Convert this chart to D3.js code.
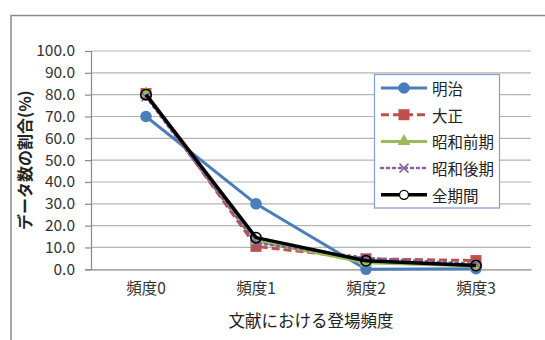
<!DOCTYPE html>
<html>
<head>
<meta charset="utf-8">
<script src="https://cdn.jsdelivr.net/npm/d3@7"></script>
<style>
  html, body { margin: 0; padding: 0; background: #fff; }
  svg { display: block; font-family: "Noto Sans CJK JP", "Noto Sans", sans-serif; }
</style>
</head>
<body>
<svg id="chart" width="545" height="340"></svg>
<script>
// Share of entries by how often they appear in the literature, per era (%)
const categories = ["頻度0", "頻度1", "頻度2", "頻度3"];
const seriesNames = ["明治", "大正", "昭和前期", "昭和後期", "全期間"];
const meiji   = [70.0, 30.0, 0.0, 0.3];
const taisho  = [80.5, 10.5, 4.8, 4.0];
const showaEarly = [80.5, 13.0, 3.0, 1.5];
const showaLate  = [79.0, 12.0, 5.2, 2.5];
const allPeriods = [80.0, 14.5, 3.9, 1.7];
const yTicks = [0, 10, 20, 30, 40, 50, 60, 70, 80, 90, 100];

const seriesValues = [meiji, taisho, showaEarly, showaLate, allPeriods];

const styles = [
  { color: "#4A7EBB", width: 3,   dash: null,  marker: "circle" },
  { color: "#C0504D", width: 3,   dash: "8,4", marker: "square" },
  { color: "#9BBB59", width: 3,   dash: null,  marker: "triangle" },
  { color: "#8064A2", width: 2.5, dash: "2,4", marker: "x" },
  { color: "#000000", width: 3.5, dash: null,  marker: "open" }
];

const svg = d3.select("#chart");

// outer chart frame (runs off the right and bottom edges)
svg.append("rect")
  .attr("x", 11).attr("y", 15.5)
  .attr("width", 600).attr("height", 400)
  .attr("fill", "#fff").attr("stroke", "#8a8a8a").attr("stroke-width", 1.5);

const plot = { left: 91, right: 531, top: 51, bottom: 269.3 };

const x = d3.scaleBand().domain(categories).range([plot.left, plot.right]);
const y = d3.scaleLinear().domain([0, 100]).range([plot.bottom, plot.top]);

// horizontal gridlines
svg.append("g").selectAll("line").data(yTicks.filter(d => d > 0)).join("line")
  .attr("x1", plot.left).attr("x2", plot.right)
  .attr("y1", d => y(d)).attr("y2", d => y(d))
  .attr("stroke", "#b4b4b4").attr("stroke-width", 1.2);

// y axis
const yAxis = svg.append("g")
  .attr("transform", `translate(${plot.left},0)`)
  .call(d3.axisLeft(y).tickValues(yTicks).tickFormat(d3.format(".1f")).tickSize(6).tickPadding(10));
yAxis.select(".domain").attr("stroke", "#8a8a8a").attr("stroke-width", 1.2);
yAxis.selectAll(".tick line").attr("stroke", "#8a8a8a").attr("stroke-width", 1.2);
yAxis.selectAll(".tick text")
  .style("font-size", "15.5px").attr("fill", "#333")
  .style("font-family", "'Noto Sans CJK JP', 'Noto Sans', sans-serif");

// x axis
const xAxis = svg.append("g")
  .attr("transform", `translate(0,${plot.bottom})`)
  .call(d3.axisBottom(x).tickSize(0).tickPadding(14));
xAxis.select(".domain").attr("stroke", "#8a8a8a").attr("stroke-width", 1.2);
xAxis.selectAll(".tick text").style("font-size", "15.5px").attr("fill", "#333")
  .style("font-family", "'Noto Sans CJK JP', 'Noto Sans', sans-serif");

// axis titles
svg.append("text")
  .attr("x", (plot.left + plot.right) / 2).attr("y", 320)
  .attr("text-anchor", "middle").attr("dominant-baseline", "central")
  .attr("font-size", 16.5).attr("fill", "#222")
  .text("文献における登場頻度");

svg.append("text")
  .attr("transform", `translate(24,${(plot.top + plot.bottom) / 2}) rotate(-90)`)
  .attr("text-anchor", "middle").attr("dominant-baseline", "central")
  .attr("font-size", 16).attr("font-weight", "bold").attr("fill", "#222")
  .text("データ数の割合(%)");

// markers
function drawMarker(g, kind, cx, cy, color) {
  if (kind === "circle") {
    g.append("circle").attr("cx", cx).attr("cy", cy).attr("r", 5.8).attr("fill", color);
  } else if (kind === "square") {
    g.append("rect").attr("x", cx - 5.5).attr("y", cy - 5.5).attr("width", 11).attr("height", 11).attr("fill", color);
  } else if (kind === "triangle") {
    g.append("path").attr("d", d3.symbol(d3.symbolTriangle, 70)()).attr("transform", `translate(${cx},${cy})`).attr("fill", color);
  } else if (kind === "x") {
    g.append("path").attr("d", `M${cx - 4.5},${cy - 4.5}L${cx + 4.5},${cy + 4.5}M${cx - 4.5},${cy + 4.5}L${cx + 4.5},${cy - 4.5}`)
      .attr("stroke", color).attr("stroke-width", 1.5).attr("fill", "none");
  } else if (kind === "open") {
    g.append("circle").attr("cx", cx).attr("cy", cy).attr("r", 5.2)
      .attr("fill", "none").attr("stroke", color).attr("stroke-width", 1.6);
  }
}

const line = d3.line().x((d, i) => x(categories[i]) + x.bandwidth() / 2).y(d => y(d));

seriesValues.forEach((vals, si) => {
  const st = styles[si];
  const g = svg.append("g");
  g.append("path").datum(vals).attr("d", line)
    .attr("fill", "none").attr("stroke", st.color).attr("stroke-width", st.width)
    .attr("stroke-dasharray", st.dash).attr("stroke-linecap", st.dash === "2,4" ? "round" : "butt")
    .attr("stroke-linejoin", "round");
  vals.forEach((v, i) => drawMarker(g, st.marker, x(categories[i]) + x.bandwidth() / 2, y(v), st.color));
});

// legend
const lg = svg.append("g");
lg.append("rect").attr("x", 374.5).attr("y", 74.5).attr("width", 125).attr("height", 133.5)
  .attr("fill", "#fff").attr("stroke", "#7f9fcc").attr("stroke-width", 1.2);
seriesNames.forEach((name, i) => {
  const st = styles[i];
  const ly = 88 + i * 26.7;
  lg.append("line").attr("x1", 381).attr("x2", 427).attr("y1", ly).attr("y2", ly)
    .attr("stroke", st.color).attr("stroke-width", st.width)
    .attr("stroke-dasharray", st.dash).attr("stroke-linecap", st.dash === "2,4" ? "round" : "butt");
  if (st.marker === "open") {
    lg.append("circle").attr("cx", 404).attr("cy", ly).attr("r", 4.5)
      .attr("fill", "#fff").attr("stroke", st.color).attr("stroke-width", 1.3);
  } else {
    drawMarker(lg, st.marker, 404, ly, st.color);
  }
  lg.append("text").attr("x", 432).attr("y", ly).attr("dominant-baseline", "central")
    .attr("font-size", 15.5).attr("fill", "#222").text(name);
});
</script>
</body>
</html>
